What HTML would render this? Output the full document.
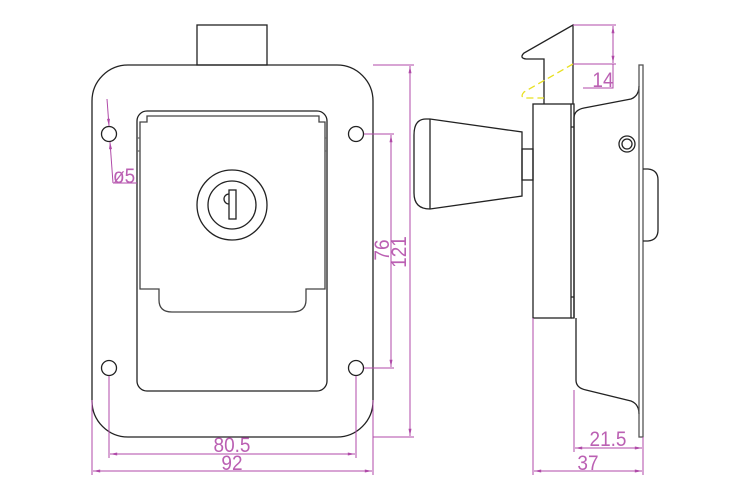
<!DOCTYPE html>
<html><head><meta charset="utf-8"><style>
html,body{margin:0;padding:0;background:#fff}
svg{display:block}
text{font-family:"Liberation Sans",sans-serif;fill:#bb60b3;font-size:19px}
</style></head><body>
<svg width="750" height="500" viewBox="0 0 750 500" xmlns="http://www.w3.org/2000/svg">
<defs>
<marker id="a" viewBox="0 0 12 10" refX="12" refY="5" markerWidth="12" markerHeight="6" orient="auto-start-reverse" markerUnits="userSpaceOnUse"><path d="M0,2.5 L12,5 L0,7.5z" fill="#b04aa8"/></marker>
</defs>
<g fill="none" stroke="#222" stroke-width="1.3">
<rect x="197" y="25" width="70" height="40"/>
<rect x="92" y="65" width="281" height="372" rx="36"/>
<rect x="137" y="111" width="190" height="280" rx="10"/>
<path d="M140,138 V122 H147 V116 H319 V122 H325 V289 H306 V300 Q306,312 292,312 H172 Q159,312 159,300 V289 H140 Z" stroke="#444"/>
<path d="M137,138 H140 M137,151 H140 M325,138 H327 M325,151 H327" stroke="#666"/>
<circle cx="232" cy="205" r="35"/>
<circle cx="232" cy="205" r="24"/>
<rect x="229" y="190" width="7" height="29"/>
<path d="M229,194 A5,5 0 0 0 229,204"/>
<circle cx="109" cy="134" r="7.5"/>
<circle cx="356" cy="134" r="7.5"/>
<circle cx="109" cy="368" r="7.5"/>
<circle cx="356" cy="368" r="7.5"/>
<path d="M430,119 H426 Q414,119 414,135 V193 Q414,209 430,209 L522,196 V132 Z"/>
<path d="M430,119 V209"/>
<rect x="522" y="149" width="11" height="31"/>
<rect x="533" y="104" width="38" height="214"/>
<path d="M571,104 H574 V318 H571 M571,127 H574 M571,297 H574"/>
<path d="M573,104 V25 L524,53 Q519,58 526,59 H544 V104"/>
<path d="M574,318 V118 Q574,110 584,108 L631,99 Q639,96 639,86"/>
<path d="M576,318 V380 Q576,388 586,390 L631,401 Q639,404 639,414"/>
<rect x="639" y="65" width="4" height="372" stroke="#555"/>
<path d="M643,169 H648 Q658,170 658,180 V230 Q658,240 648,241 H643"/>
<circle cx="627" cy="144" r="8"/>
<circle cx="627" cy="144" r="5"/>
</g>
<path d="M573,64 L524,92 Q519,98 527,98 H544" fill="none" stroke="#e8e020" stroke-width="1.3" stroke-dasharray="7,4"/>
<g fill="none" stroke="#b04aa8" stroke-width="1">
<line x1="107" y1="99" x2="109" y2="126" marker-end="url(#a)"/>
<line x1="113" y1="183" x2="110" y2="142" marker-end="url(#a)"/>
<path d="M113,183 H137"/>
<path d="M373,65 H414 M373,437 H414"/>
<line x1="410" y1="66" x2="410" y2="436" marker-start="url(#a)" marker-end="url(#a)"/>
<path d="M364,134 H394 M364,368 H394"/>
<line x1="391" y1="135" x2="391" y2="367" marker-start="url(#a)" marker-end="url(#a)"/>
<path d="M109,376 V458 M356,376 V458"/>
<line x1="110" y1="454" x2="355" y2="454" marker-start="url(#a)" marker-end="url(#a)"/>
<path d="M92,400 V475 M373,400 V475"/>
<line x1="93" y1="471" x2="372" y2="471" marker-start="url(#a)" marker-end="url(#a)"/>
<path d="M573,25 H616 M573,64 H616 M613,64 V88 H583"/>
<line x1="613" y1="26" x2="613" y2="63" marker-start="url(#a)" marker-end="url(#a)"/>
<path d="M533,318 V475 M574,390 V452 M643,437 V475"/>
<line x1="575" y1="448" x2="642" y2="448" marker-start="url(#a)" marker-end="url(#a)"/>
<line x1="534" y1="471" x2="642" y2="471" marker-start="url(#a)" marker-end="url(#a)"/>
</g>
<g font-size="20">
<text transform="translate(113,183) scale(1,1.1)">ø5</text>
<text transform="translate(406,252) rotate(-90) scale(1,1.1)" text-anchor="middle">121</text>
<text transform="translate(389,250) rotate(-90) scale(1,1.1)" text-anchor="middle">76</text>
<text transform="translate(232,452) scale(1,1.1)" text-anchor="middle">80.5</text>
<text transform="translate(232,470) scale(1,1.1)" text-anchor="middle">92</text>
<text transform="translate(603,87) scale(1,1.1)" text-anchor="middle">14</text>
<text transform="translate(608,446) scale(1,1.1)" text-anchor="middle">21.5</text>
<text transform="translate(588,470) scale(1,1.1)" text-anchor="middle">37</text>
</g>
</svg>
</body></html>
